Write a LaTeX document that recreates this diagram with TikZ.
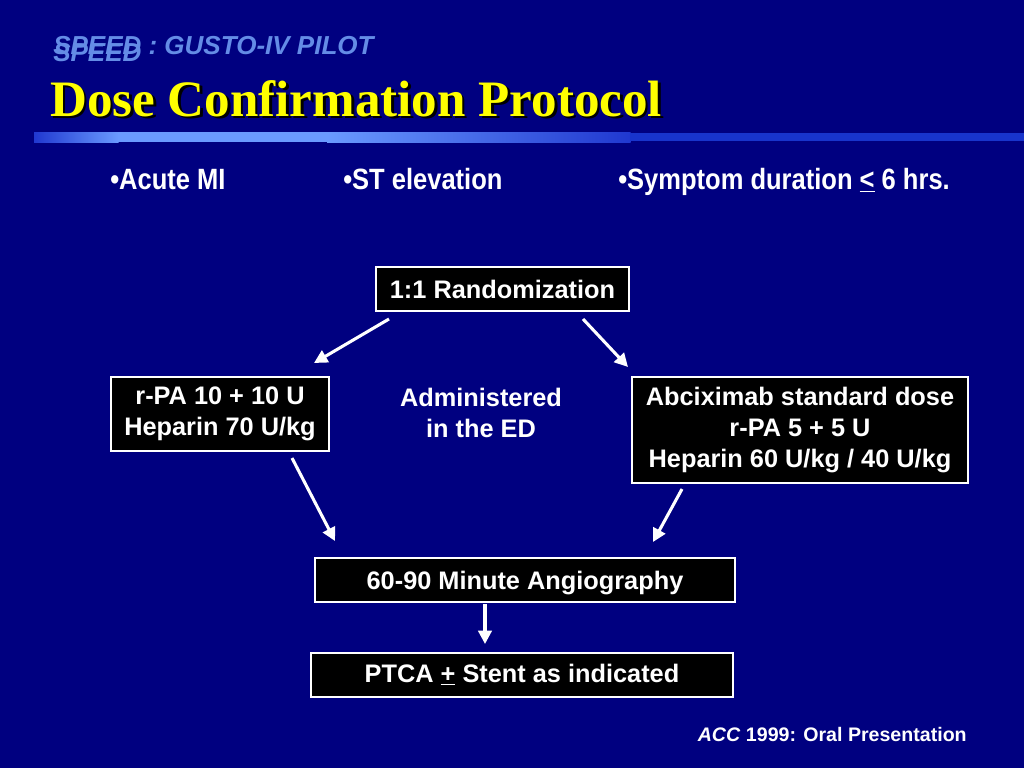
\documentclass[tikz,border=0pt]{standalone}
\usepackage{fontspec}
\setmainfont{Liberation Sans}
\newfontfamily\titlefont{Liberation Serif}
\newfontfamily\narrowfont[FakeStretch=0.87]{Liberation Sans}
\usetikzlibrary{calc,arrows.meta}
\definecolor{slidebg}{RGB}{0,0,128}
\definecolor{speedblue}{RGB}{100,140,230}
\definecolor{barlight}{RGB}{106,154,255}
\definecolor{bardark}{RGB}{32,56,208}
\definecolor{barright}{RGB}{24,52,204}
\definecolor{titleyellow}{RGB}{255,255,0}
\tikzset{
	stepbox/.style={draw=white, line width=1.5pt, fill=black, text=white, align=center, inner sep=0pt, font=\bfseries\fontsize{19}{23}\selectfont},
	flow/.style={white, line width=2.3pt, -{Triangle[length=10pt,width=10pt]}},
	crit/.style={anchor=base west, inner sep=0pt, text=white, font=\narrowfont\bfseries\fontsize{22}{25}\selectfont},
	subtitle/.style={anchor=base west, inner sep=0pt, text=speedblue, font=\bfseries\itshape\fontsize{19.5}{21}\selectfont},
	headline/.style={anchor=base west, inner sep=0pt, font=\titlefont\bfseries\fontsize{38.3}{42}\selectfont}
}

\begin{document}
\begin{tikzpicture}[x=0.75pt, y=-0.75pt]
			%%%%% START %%%%%
			
			\useasboundingbox (0, 0) rectangle (1024, 768);
			\fill[slidebg] (0, 0) rectangle (1024, 768);
			
			\node[subtitle] (speedlow) at (53, 61) {SPEED};
			\node[subtitle] (speedtop) at (53, 54) {SPEED : GUSTO-IV PILOT};
			\node[headline, text=black] (titleshadow) at (52.5, 118.5) {Dose Confirmation Protocol};
			\node[headline, text=titleyellow] (title) at (50, 116) {Dose Confirmation Protocol};
			
			\shade[left color=bardark, right color=barlight] (34, 132) rectangle (118.5, 142);
			\fill[barlight] (118, 132) rectangle (327.5, 142);
			\shade[left color=barlight, right color=bardark] (327, 132) rectangle (630.5, 142);
			\fill[barright] (630, 133) rectangle (1024, 141);
			
			\node[crit] (acute) at (110, 189) {\textbullet Acute MI};
			\node[crit] (stelev) at (343, 189) {\textbullet ST elevation};
			\node[crit] (symptom) at (618, 189) {\textbullet Symptom duration \underline{<} 6 hrs.};
			
			\node[stepbox, minimum width=189.75pt, minimum height=33pt] (rand) at (502.5, 289) {1:1 Randomization};
			\node[stepbox, minimum width=163.5pt, minimum height=55.5pt] (rpa) at (220, 414) {r-PA 10 + 10 U\\Heparin 70 U/kg};
			\node[text=white, align=center, font=\bfseries\fontsize{19}{23}\selectfont] (admin) at (481, 413) {Administered\\in the ED};
			\node[stepbox, minimum width=252pt, minimum height=79.5pt] (abc) at (800, 430) {Abciximab standard dose\\r-PA 5 + 5 U\\Heparin 60 U/kg / 40 U/kg};
			\node[stepbox, text depth=0pt, minimum width=315pt, minimum height=33pt] (angio) at (525, 580) {60-90 Minute Angiography};
			\node[stepbox, minimum width=316.5pt, minimum height=33pt] (ptca) at (522, 675) {PTCA \underline{+} Stent as indicated};
			
			\draw[flow] ($(rand.south west)+(14, 7)$) -- ($(rpa.north east)+(-16, -13)$);
			\draw[flow] ($(rand.south east)+(-47, 7)$) -- ($(abc.north west)+(-3, -9)$);
			\draw[flow] ($(rpa.south east)+(-38, 6)$) -- ($(angio.north west)+(21, -16)$);
			\draw[flow] ($(abc.south west)+(51, 5)$) -- ($(angio.north east)+(-83, -15)$);
			\draw[flow] ($(angio.south west)+(171, 1)$) -- ($(ptca.north west)+(175, -8)$);
			
			\node[anchor=base east, inner sep=0pt, text=white, font=\bfseries\fontsize{14.7}{17}\selectfont] (venue) at (967, 741) {\textit{ACC} 1999: Oral Presentation};
			
			%%%%% END %%%%%
\end{tikzpicture}
\end{document}
